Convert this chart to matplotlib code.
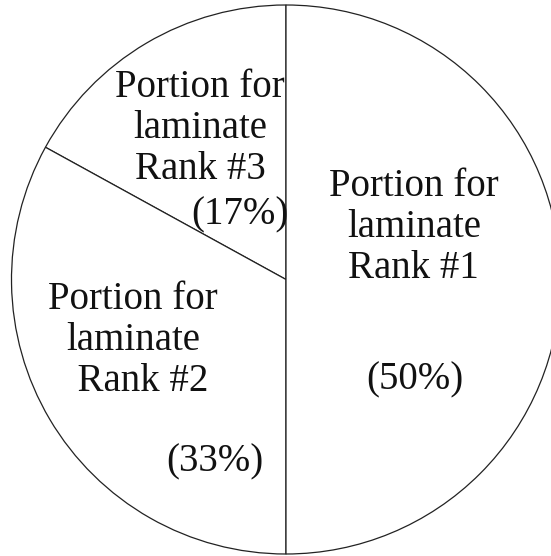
import matplotlib
matplotlib.use("Agg")
import matplotlib.pyplot as plt

# slice data (counter-clockwise from the top)
labels = ["Portion for\nlaminate\nRank #3", "Portion for\nlaminate\n  Rank #2", "Portion for\nlaminate\nRank #1"]
shares = [17, 33, 50]
pct_labels = ["(17%)", "(33%)", "(50%)"]

# where the text sits inside each slice (data units, radius = 1)
label_pos = [(-0.313, 0.550), (-0.557, -0.222), (0.466, 0.188)]
pct_pos = [(-0.168, 0.235), (-0.259, -0.665), (0.470, -0.366)]

plt.rcParams['font.family'] = ['Liberation Serif', 'DejaVu Serif']

fig = plt.figure(figsize=(5.51, 5.56), dpi=100)
ax = fig.add_axes([0, 0, 1, 1])

ax.pie(shares, startangle=90, counterclock=True, colors=["white"] * 3,
       wedgeprops=dict(edgecolor="#222222", linewidth=0.9))

for txt, (x, y) in zip(labels, label_pos):
    ax.text(x, y, txt, ha="center", va="center", fontsize=28,
            linespacing=1.14, color="#111111")
for txt, (x, y) in zip(pct_labels, pct_pos):
    ax.text(x, y, txt, ha="center", va="center", fontsize=28, color="#111111")

ax.set_xlim(-286 / 274.5, 265 / 274.5)
ax.set_ylim(-276.5 / 274.5, 279.5 / 274.5)
ax.set_aspect("auto")
ax.axis("off")

fig.savefig("out.png", dpi=100, facecolor="white")
